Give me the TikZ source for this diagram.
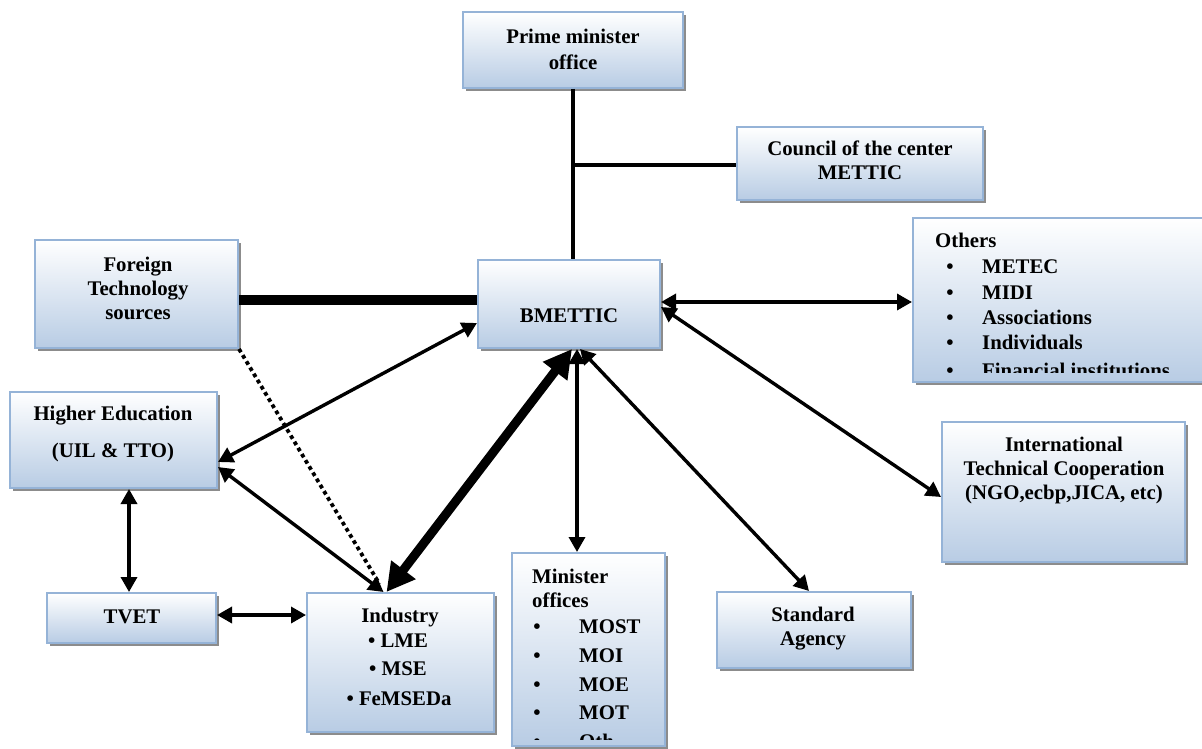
\documentclass[tikz,border=0pt]{standalone}
\usepackage{fontspec}
\setmainfont{Liberation Serif}
\usetikzlibrary{arrows.meta,shadows}

\definecolor{boxblue}{RGB}{184,204,228}
\definecolor{boxline}{RGB}{149,179,215}
\definecolor{shadowgray}{RGB}{140,140,140}

\tikzset{
  box/.style={draw=boxline, line width=2pt, top color=white, bottom color=boxblue,
    inner sep=0pt, drop shadow={shadow xshift=3pt, shadow yshift=-3pt, fill=shadowgray, opacity=1}},
  lbl/.style={font=\bfseries\fontsize{20.8}{24}\selectfont, inner sep=0pt, align=center},
  link/.style={line width=3.6pt},
  heavylink/.style={line width=10.5pt},
  dotlink/.style={line width=3.8pt, dash pattern=on 3.8pt off 3.4pt},
  biarrow/.style={line width=3.4pt, {Triangle[length=15pt,width=16pt]}-{Triangle[length=15pt,width=16pt]}},
  bigarrow/.style={line width=9pt, {Triangle[length=28pt,width=29pt]}-{Triangle[length=28pt,width=29pt]}},
}

\begin{document}
\begin{tikzpicture}[x=1pt, y=-1pt]
\useasboundingbox (0,0) rectangle (1202,749);
\fill[white] (0,0) rectangle (1202,749);

% boxes
\node[box, minimum width=220pt, minimum height=76pt]  (pm)       at (573,50)     {};
\node[box, minimum width=246pt, minimum height=73pt]  (council)  at (860,163.5)  {};
\node[box, minimum width=297pt, minimum height=164pt] (others)   at (1061.5,300) {};
\node[box, minimum width=182pt, minimum height=88pt]  (bm)       at (569,304)    {};
\node[box, minimum width=203pt, minimum height=108pt] (foreign)  at (136.5,294)  {};
\node[box, minimum width=207pt, minimum height=96pt]  (higher)   at (113.5,440)  {};
\node[box, minimum width=169pt, minimum height=50pt]  (tvet)     at (131.5,618)  {};
\node[box, minimum width=187pt, minimum height=139pt] (industry) at (400.5,662.5) {};
\node[box, minimum width=153pt, minimum height=193pt] (minister) at (588.5,649.5) {};
\node[box, minimum width=194pt, minimum height=76pt]  (standard) at (814,630)    {};
\node[box, minimum width=243pt, minimum height=140pt] (intl)     at (1063.5,492) {};

% box texts
\node[lbl, font=\bfseries\fontsize{20.8}{26}\selectfont] (pm-t) at (573,49) {Prime minister\\office};
\node[lbl] (council-t) at (860,160.5) {Council of the center\\METTIC};
\node[lbl] (foreign-t) at (138,288) {Foreign\\Technology\\sources};
\node[lbl, anchor=base] (bm-t) at (569,322) {BMETTIC};
\node[lbl, anchor=base] (higher-t1) at (113,420) {Higher Education};
\node[lbl, anchor=base] (higher-t2) at (113,457) {(UIL \& TTO)};
\node[lbl, anchor=base] (tvet-t) at (132,623) {TVET};
\node[lbl, anchor=base] (ind-t0) at (400,622) {Industry};
\node[lbl, anchor=base] (ind-t1) at (398,647) {• LME};
\node[lbl, anchor=base] (ind-t2) at (398,675) {• MSE};
\node[lbl, anchor=base] (ind-t3) at (399,705) {• FeMSEDa};
\node[lbl] (standard-t) at (813,628.5) {Standard\\Agency};
\node[lbl] (intl-t) at (1064,470) {International\\Technical Cooperation\\(NGO,ecbp,JICA, etc)};

% list inside the "Others" box, cut off at its lower edge
\begin{scope}
  \clip (others.north west) rectangle ([yshift=11pt]others.south east);
  \node[lbl, anchor=base west] (oth-h) at (935,247) {Others};
  \foreach \item/\yy [count=\k] in {METEC/273, MIDI/299, Associations/324, Individuals/349, Financial institutions/377} {
    \node[lbl, anchor=base] (oth-b\k) at (950,\yy) {•};
    \node[lbl, anchor=base west] (oth-i\k) at (982,\yy) {\item};
  }
\end{scope}

% list inside the minister offices box, cut off at its lower edge
\begin{scope}
  \clip (minister.north west) rectangle ([yshift=8pt]minister.south east);
  \node[lbl, anchor=base west] (min-h1) at (532,583) {Minister};
  \node[lbl, anchor=base west] (min-h2) at (532,607) {offices};
  \foreach \item/\yy [count=\k] in {MOST/633, MOI/662, MOE/691, MOT/719, Oth/748} {
    \node[lbl, anchor=base] (min-b\k) at (537,\yy) {•};
    \node[lbl, anchor=base west] (min-i\k) at (579,\yy) {\item};
  }
\end{scope}

% connectors
\coordinate (jn) at (573,165);
\draw[link] (pm.south) -- ([xshift=4pt]bm.north);
\draw[link] (jn) -- ([yshift=-1.5pt]council.west);
\draw[heavylink] ([yshift=-6pt]foreign.east) -- ([yshift=4pt]bm.west);
\draw[dotlink] (foreign.south east) -- ([xshift=-21pt,yshift=8pt]industry.north);

\draw[biarrow] ([yshift=-22pt]higher.east) -- ([yshift=-19pt]bm.west);
\draw[biarrow] ([yshift=-27pt]higher.east) -- ([xshift=-17pt]industry.north);
\draw[bigarrow] ([xshift=-14pt]industry.north) -- ([xshift=3pt]bm.south);
\draw[biarrow] ([xshift=8pt]bm.south) -- ([xshift=-11.5pt]minister.north);
\draw[biarrow] ([xshift=11pt]bm.south) -- ([xshift=-5pt]standard.north);
\draw[biarrow] ([yshift=2pt]bm.east) -- ([yshift=-2pt]others.west);
\draw[biarrow] ([yshift=-3pt]bm.east) -- ([yshift=-5pt]intl.west);
\draw[biarrow] ([xshift=15.5pt]higher.south) -- ([xshift=-2.5pt]tvet.north);
\draw[biarrow] ([yshift=3pt]tvet.east) -- ([yshift=47.5pt]industry.west);
\end{tikzpicture}
\end{document}
